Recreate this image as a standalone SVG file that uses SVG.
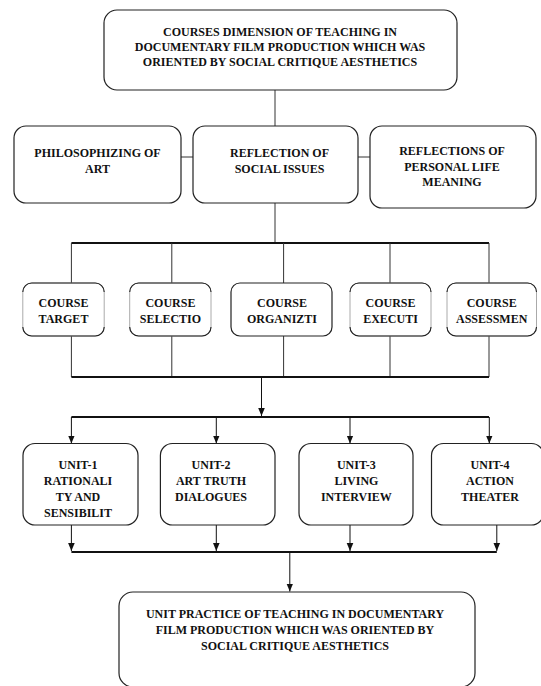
<svg xmlns="http://www.w3.org/2000/svg" width="541" height="686" viewBox="0 0 541 686">
<style>
.box{fill:#fff;stroke:#222;stroke-width:1.2}
.cbox{fill:#fff;stroke:#aaa;stroke-width:1}
.cedge{fill:none;stroke:#222;stroke-width:1.1}
.t{font-family:'Liberation Serif','Times New Roman',serif;font-weight:700;font-size:12px;fill:#111;text-anchor:middle}
.ln{stroke:#333;stroke-width:1;fill:none}
.bus{stroke:#111;stroke-width:2;fill:none}
.ar{stroke:#111;stroke-width:1;fill:none;marker-end:url(#ah)}
</style>
<defs>
<marker id="ah" viewBox="0 0 8 8" refX="8" refY="4" markerWidth="8" markerHeight="8" markerUnits="userSpaceOnUse" orient="auto">
<path d="M0,0.7 L8,4 L0,7.3 Z" fill="#111"/>
</marker>
</defs>
<rect width="541" height="686" fill="#fff"/>
<g id="connectors">
<path class="ln" d="M275,90 V126"/>
<path class="ln" d="M181,157 H193 M358,157 H370"/>
<path class="ln" d="M275,203 V243"/>
<path class="bus" d="M71.4,243 H489"/>
<path class="ln" d="M71.4,243 V283 M171.8,243 V283 M283.6,243 V283 M390,243 V283 M489,243 V283"/>
<path class="ln" d="M71.4,336 V377 M171.8,336 V377 M283.6,336 V377 M390,336 V377 M489,336 V377"/>
<path class="bus" d="M71.4,377 H489"/>
<path class="ar" d="M261.5,377 V416"/>
<path class="bus" d="M71.4,417 H489"/>
<path class="ar" d="M71.4,417 V443.5"/>
<path class="ar" d="M216.3,417 V443.5"/>
<path class="ar" d="M350,417 V443.5"/>
<path class="ar" d="M489.3,417 V443.5"/>
<path class="ar" d="M71.4,525 V551"/>
<path class="ar" d="M216.3,525 V551"/>
<path class="ar" d="M350,525 V551"/>
<path class="ar" d="M496.8,525 V551"/>
<path class="bus" d="M71.4,552 H496.8"/>
<path class="ar" d="M289.8,552 V591.5"/>
</g>
<g id="n-top">
<rect class="box" x="104" y="10" width="353" height="80" rx="13"/>
<text class="t" x="280" y="36">COURSES DIMENSION OF TEACHING IN</text>
<text class="t" x="280" y="51">DOCUMENTARY FILM PRODUCTION WHICH WAS</text>
<text class="t" x="280" y="66">ORIENTED BY SOCIAL CRITIQUE AESTHETICS</text>
</g>
<g id="n-philosophizing">
<rect class="box" x="14" y="126" width="167" height="77" rx="12"/>
<text class="t" x="97.5" y="157">PHILOSOPHIZING OF</text>
<text class="t" x="97.5" y="172.5">ART</text>
</g>
<g id="n-social">
<rect class="box" x="193" y="126" width="165" height="77" rx="12"/>
<text class="t" x="279.5" y="157">REFLECTION OF</text>
<text class="t" x="279.5" y="172.5">SOCIAL ISSUES</text>
</g>
<g id="n-personal">
<rect class="box" x="370" y="126" width="166" height="82" rx="12"/>
<text class="t" x="452" y="155">REFLECTIONS OF</text>
<text class="t" x="452" y="170.5">PERSONAL LIFE</text>
<text class="t" x="452" y="186">MEANING</text>
</g>
<g id="n-target">
<rect class="cbox" x="22.8" y="283" width="81.4" height="53" rx="9"/>
<path class="cedge" d="M22.8,292 A9,9 0 0 1 31.8,283 H95.2 A9,9 0 0 1 104.2,292 M22.8,327 A9,9 0 0 0 31.8,336 H95.2 A9,9 0 0 0 104.2,327"/>
<text class="t" x="63.5" y="307">COURSE</text>
<text class="t" x="63.5" y="323">TARGET</text>
</g>
<g id="n-selection">
<rect class="cbox" x="129.7" y="283" width="81.3" height="53" rx="9"/>
<path class="cedge" d="M129.7,292 A9,9 0 0 1 138.7,283 H202 A9,9 0 0 1 211,292 M129.7,327 A9,9 0 0 0 138.7,336 H202 A9,9 0 0 0 211,327"/>
<text class="t" x="170.4" y="307">COURSE</text>
<text class="t" x="170.4" y="323">SELECTIO</text>
</g>
<g id="n-organization">
<rect class="box" x="231" y="283" width="101" height="53" rx="9"/>
<text class="t" x="282" y="307">COURSE</text>
<text class="t" x="282" y="323">ORGANIZTI</text>
</g>
<g id="n-execution">
<rect class="cbox" x="350" y="283" width="81" height="53" rx="9"/>
<path class="cedge" d="M350,292 A9,9 0 0 1 359,283 H422 A9,9 0 0 1 431,292 M350,327 A9,9 0 0 0 359,336 H422 A9,9 0 0 0 431,327"/>
<text class="t" x="390.5" y="307">COURSE</text>
<text class="t" x="390.5" y="323">EXECUTI</text>
</g>
<g id="n-assessment">
<rect class="cbox" x="447" y="283" width="89.5" height="53" rx="9"/>
<path class="cedge" d="M447,292 A9,9 0 0 1 456,283 H527.5 A9,9 0 0 1 536.5,292 M447,327 A9,9 0 0 0 456,336 H527.5 A9,9 0 0 0 536.5,327"/>
<text class="t" x="491.7" y="307">COURSE</text>
<text class="t" x="491.7" y="323">ASSESSMEN</text>
</g>
<g id="n-unit1">
<rect class="box" x="23" y="443.5" width="115" height="81.5" rx="12"/>
<text class="t" x="78" y="469">UNIT-1</text>
<text class="t" x="78" y="485">RATIONALI</text>
<text class="t" x="78" y="501">TY AND</text>
<text class="t" x="78" y="517">SENSIBILIT</text>
</g>
<g id="n-unit2">
<rect class="box" x="160.4" y="443.5" width="114.6" height="81.5" rx="12"/>
<text class="t" x="211" y="469">UNIT-2</text>
<text class="t" x="211" y="485">ART TRUTH</text>
<text class="t" x="211" y="501">DIALOGUES</text>
</g>
<g id="n-unit3">
<rect class="box" x="299" y="443.5" width="114" height="81.5" rx="12"/>
<text class="t" x="356.4" y="469">UNIT-3</text>
<text class="t" x="356.4" y="485">LIVING</text>
<text class="t" x="356.4" y="501">INTERVIEW</text>
</g>
<g id="n-unit4">
<rect class="box" x="431.5" y="443.5" width="112" height="81.5" rx="12"/>
<text class="t" x="490" y="469">UNIT-4</text>
<text class="t" x="490" y="485">ACTION</text>
<text class="t" x="490" y="501">THEATER</text>
</g>
<g id="n-bottom">
<rect class="box" x="119" y="592" width="356" height="95" rx="14"/>
<text class="t" x="295" y="618">UNIT PRACTICE OF TEACHING IN DOCUMENTARY</text>
<text class="t" x="295" y="634">FILM PRODUCTION WHICH WAS ORIENTED BY</text>
<text class="t" x="295" y="650">SOCIAL CRITIQUE AESTHETICS</text>
</g>
</svg>
